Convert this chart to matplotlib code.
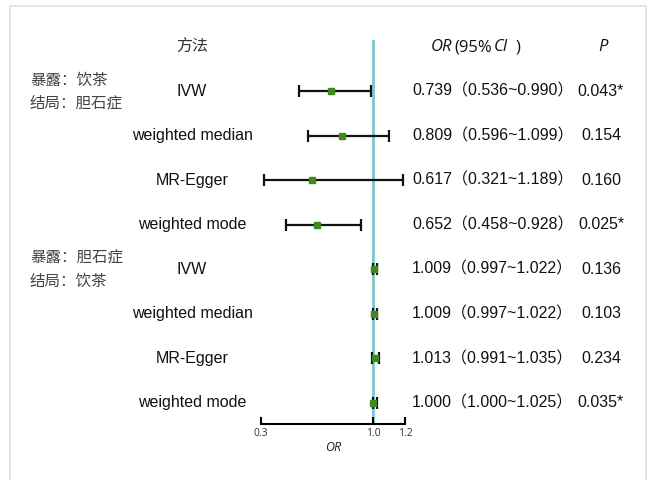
import matplotlib
matplotlib.use("Agg")
import matplotlib.pyplot as plt
import matplotlib.transforms as mtransforms
from matplotlib.patches import Rectangle

plt.rcParams['font.family'] = ['Liberation Sans', 'Noto Sans CJK SC', 'DejaVu Sans']

methods = ["IVW", "weighted median", "MR-Egger", "weighted mode",
           "IVW", "weighted median", "MR-Egger", "weighted mode"]
or_vals = [0.739, 0.809, 0.617, 0.652, 1.009, 1.009, 1.013, 1.000]
ci_low = [0.536, 0.596, 0.321, 0.458, 0.997, 0.997, 0.991, 1.000]
ci_high = [0.990, 1.099, 1.189, 0.928, 1.022, 1.022, 1.035, 1.025]
p_vals = ["0.043*", "0.154", "0.160", "0.025*", "0.136", "0.103", "0.234", "0.035*"]
groups = [("暴露：饮茶", "结局：胆石症", 0), ("暴露：胆石症", "结局：饮茶", 4)]
xticks = [0.3, 1.0, 1.2]

W, H = 649, 480
fig = plt.figure(figsize=(W / 100, H / 100), dpi=100)

# light frame around the figure
fig.patches.append(Rectangle((10 / W, -0.05), (646 - 10) / W, 1.05 - 6 / H,
                             transform=fig.transFigure, fill=False,
                             edgecolor="#e2e2e2", linewidth=1.2))

x0, x1 = 261, 405
ytop, ybot = 40, 424
ax = fig.add_axes([x0 / W, 1 - ybot / H, (x1 - x0) / W, (ybot - ytop) / H])
step = 44.57
ax.set_xlim(0.3, 1.2)
ax.set_ylim((ybot - 91) / step, (ytop - 91) / step)
ax.patch.set_alpha(0)

rows = list(range(len(methods)))
ax.axvline(1.0, color="#79c7cf", linewidth=2, zorder=1)
err = [[o - l for o, l in zip(or_vals, ci_low)], [h - o for o, h in zip(or_vals, ci_high)]]
ax.errorbar(or_vals, rows, xerr=err, fmt="none", ecolor="#111111",
            elinewidth=1.6, capsize=4.5, capthick=1.6, zorder=2)
ax.plot(or_vals, rows, "s", color="#3f8a1e", markersize=4.8, zorder=3)

for s in ["top", "left", "right"]:
    ax.spines[s].set_visible(False)
ax.spines["bottom"].set_linewidth(1.5)
ax.set_yticks([])
ax.set_xticks(xticks)
ax.set_xticklabels([f"{t:.1f}" for t in xticks], fontsize=7.5, color="#333333",
                   family=["Open Sans"])
ax.tick_params(axis="x", direction="in", length=5, width=1.5, pad=3)
ax.set_xlabel("OR", fontsize=9, style="italic", labelpad=1, family=["Open Sans"],
              color="#222222")

tr = mtransforms.blended_transform_factory(fig.transFigure, ax.transData)
fs = 11.5

# header
hy = (47 - 91) / step
hfont = ["Open Sans"]
hfs = 12
ax.text(192 / W, hy, "方法", transform=tr, ha="center", va="center", fontsize=fs,
        color="#333333", family=["Noto Sans CJK SC"])
ax.text(431 / W, hy, "OR", transform=tr, ha="left", va="center", fontsize=hfs,
        style="italic", family=hfont, color="#111111")
ax.text(454 / W, hy, "(95%", transform=tr, ha="left", va="center", fontsize=hfs,
        family=hfont, color="#111111")
ax.text(494 / W, hy, "CI", transform=tr, ha="left", va="center", fontsize=hfs,
        style="italic", family=hfont, color="#111111")
ax.text(516 / W, hy, ")", transform=tr, ha="left", va="center", fontsize=hfs,
        family=hfont, color="#111111")
ax.text(603 / W, hy, "P", transform=tr, ha="center", va="center", fontsize=hfs,
        style="italic", family=hfont, color="#111111")

for i in rows:
    ax.text(192 / W, i, methods[i], transform=tr, ha="center", va="center", fontsize=fs,
            color="#111111")
    ax.text(412 / W, i, f"{or_vals[i]:.3f}（{ci_low[i]:.3f}~{ci_high[i]:.3f}）",
            transform=tr, ha="left", va="center", fontsize=fs, color="#111111")
    ax.text(601 / W, i, p_vals[i], transform=tr, ha="center", va="center", fontsize=fs,
            color="#111111")

for a, b, i in groups:
    ax.text(30 / W, i - 11 / step, a, transform=tr, ha="left", va="center", fontsize=11.2,
            color="#444444", family=["Noto Sans CJK SC"])
    ax.text(30 / W, i + 12 / step, b, transform=tr, ha="left", va="center", fontsize=11.2,
            color="#444444", family=["Noto Sans CJK SC"])

fig.savefig("out.png", dpi=100)
